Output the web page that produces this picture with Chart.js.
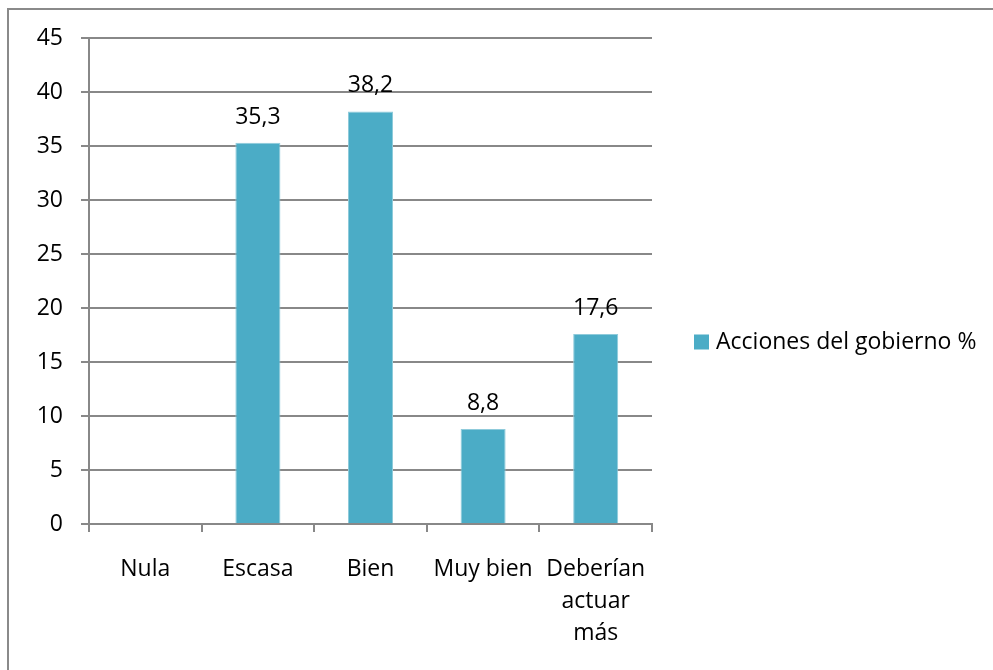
<!DOCTYPE html>
<html>
<head>
<meta charset="utf-8">
<script src="https://cdn.jsdelivr.net/npm/chart.js@4.4.1/dist/chart.umd.min.js"></script>
<style>
  html, body { margin: 0; padding: 0; background: #fff; overflow: hidden; }
  #frame { position: absolute; left: 7px; top: 8px; width: 1100px; height: 800px; border: 2px solid #8a8a8a; }
  #cv { position: absolute; left: 0; top: 0; }
</style>
</head>
<body>
<div id="frame"></div>
<canvas id="cv" width="993" height="670"></canvas>
<script>
const categories = ['Nula', 'Escasa', 'Bien', 'Muy bien', ['Deberían', 'actuar', 'más']]
const seriesLabel = 'Acciones del gobierno %'
const values = [0, 35.3, 38.2, 8.8, 17.6]
const yTicks = [0, 5, 10, 15, 20, 25, 30, 35, 40, 45]

const FONT = '"Open Sans", sans-serif'
const FS = 23
const GRID = '#888888'
const BAR = '#4BACC6'

// numbers over the bars, decimal comma
const valueLabels = {
  id: 'valueLabels',
  afterDatasetsDraw (chart) {
    const ctx = chart.ctx
    const meta = chart.getDatasetMeta(0)
    ctx.save()
    ctx.font = FS + 'px ' + FONT
    ctx.fillStyle = '#000'
    ctx.textAlign = 'center'
    ctx.textBaseline = 'alphabetic'
    meta.data.forEach((bar, i) => {
      const v = values[i]
      if (!v) return
      const { x, y } = bar.getProps(['x', 'y'], true)
      ctx.fillText(v.toFixed(1).replace('.', ','), x, y - 19)
    })
    ctx.restore()
  }
}

// legend on the right, centred on the whole frame (the built-in one is width-capped)
const sideLegend = {
  id: 'sideLegend',
  afterDraw (chart) {
    const ctx = chart.ctx
    const ds = chart.data.datasets[0]
    const x = chart.chartArea.right + 42
    const y = 342
    ctx.save()
    ctx.fillStyle = ds.backgroundColor
    ctx.fillRect(x, y - 7.5, 15, 15)
    ctx.font = FS + 'px ' + FONT
    ctx.fillStyle = '#000'
    ctx.textAlign = 'left'
    ctx.textBaseline = 'middle'
    ctx.fillText(ds.label, x + 22, y)
    ctx.restore()
  }
}

const chart = new Chart(document.getElementById('cv'), {
  type: 'bar',
  data: {
    labels: categories,
    datasets: [{
      label: seriesLabel,
      data: values,
      backgroundColor: BAR,
      borderColor: '#8FCBDB',
      borderWidth: 1,
      barPercentage: 0.4,
      categoryPercentage: 1
    }]
  },
  options: {
    responsive: false,
    animation: false,
    devicePixelRatio: 1,
    layout: { padding: { left: 10, top: 38, right: 341, bottom: 0 } },
    plugins: {
      legend: { display: false },
      tooltip: { enabled: false }
    },
    scales: {
      x: {
        afterFit: s => { s.height = 146 },
        grid: { display: true, drawOnChartArea: false, drawTicks: true, tickLength: 8, color: GRID, lineWidth: 2, offset: true },
        border: { color: GRID, width: 2 },
        ticks: { color: '#000', padding: 21, maxRotation: 0, font: { family: FONT, size: FS, lineHeight: 1.4 } }
      },
      y: {
        min: 0,
        max: 45,
        afterFit: s => { s.width = 79 },
        afterBuildTicks: s => { s.ticks = yTicks.map(v => ({ value: v })) },
        grid: { color: GRID, lineWidth: 2, tickLength: 8 },
        border: { color: GRID, width: 2 },
        ticks: { color: '#000', padding: 18, font: { family: FONT, size: FS } }
      }
    }
  },
  plugins: [valueLabels, sideLegend]
})
</script>
</body>
</html>
